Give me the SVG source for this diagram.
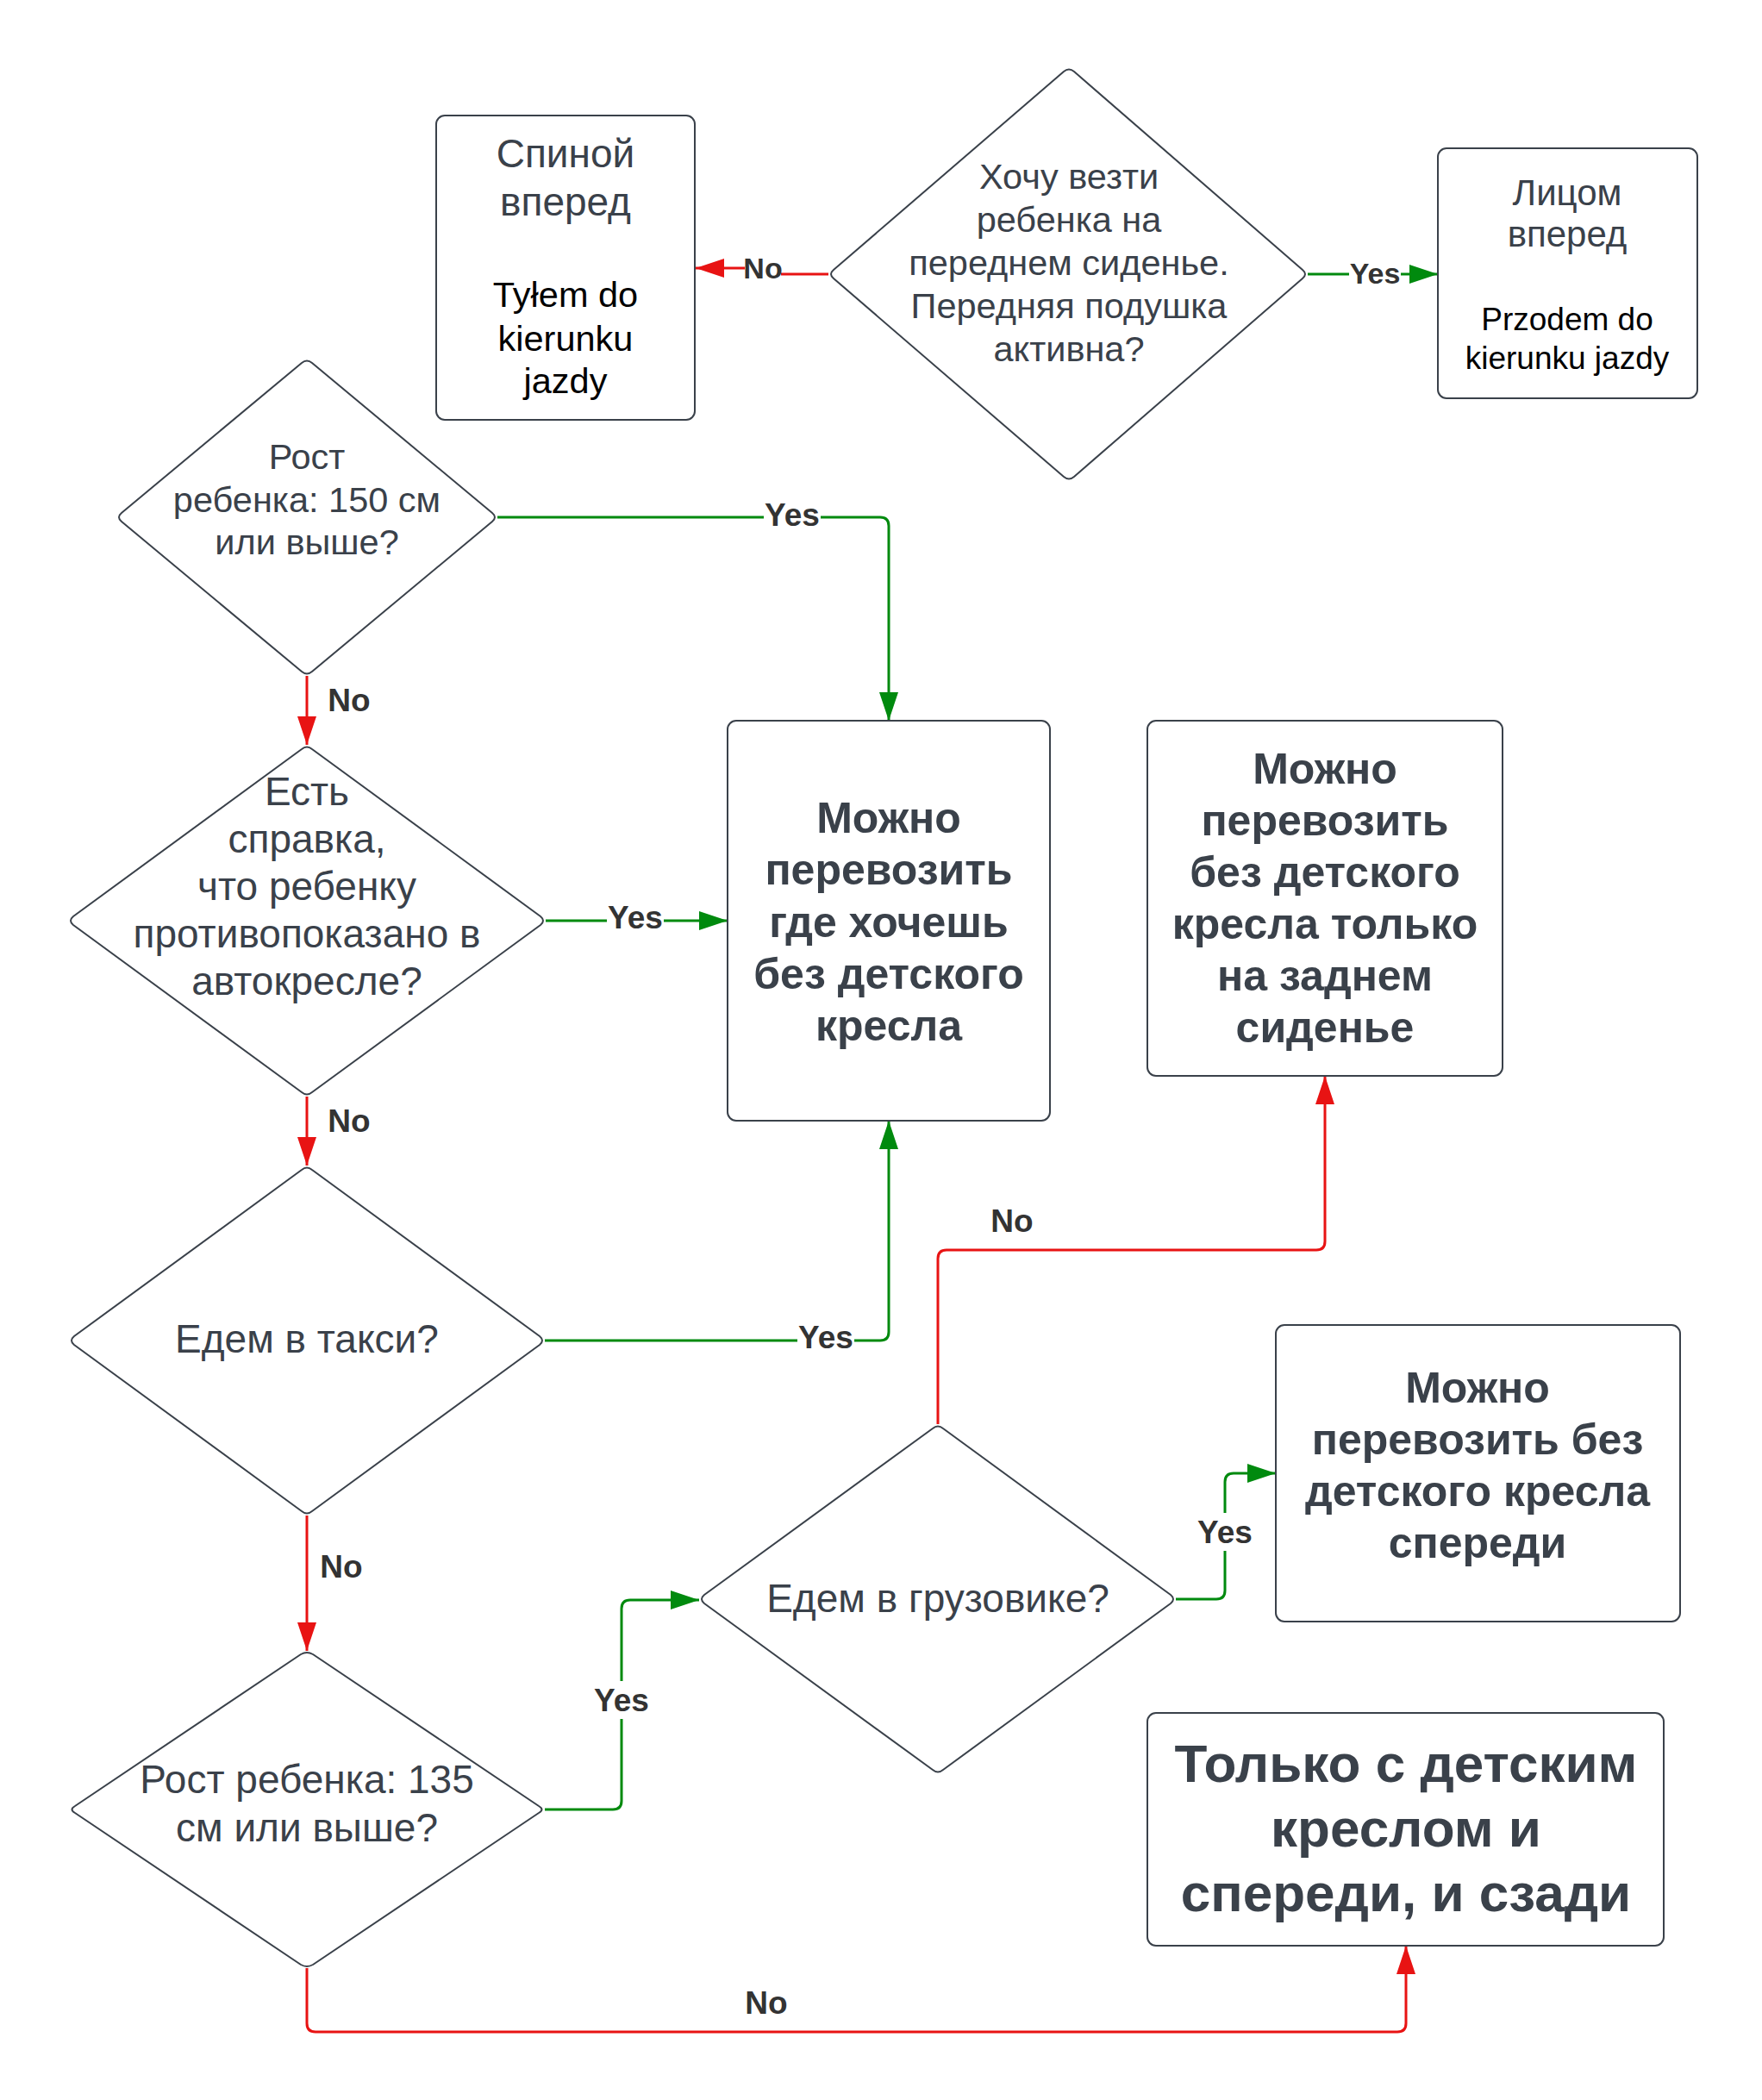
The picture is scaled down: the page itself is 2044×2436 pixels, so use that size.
<svg xmlns="http://www.w3.org/2000/svg" width="2044" height="2436" viewBox="0 0 2044 2436">
<defs>
<style>
.shape{fill:#ffffff;stroke:#3a414a;stroke-width:2;stroke-linejoin:round}
.t{font-family:"Liberation Sans",Arial,sans-serif;fill:#3a414a;text-anchor:middle}
.k{font-family:"Liberation Sans",Arial,sans-serif;fill:#000000;text-anchor:middle}
.b{font-family:"Liberation Sans",Arial,sans-serif;fill:#3a414a;text-anchor:middle;font-weight:bold}
.lbl{font-family:"Liberation Sans",Arial,sans-serif;fill:#333333;text-anchor:middle;font-weight:bold;font-size:37px}
.lbs{font-family:"Liberation Sans",Arial,sans-serif;fill:#333333;text-anchor:middle;font-weight:bold;font-size:34px}
.red{fill:none;stroke:#e81313;stroke-width:3}
.green{fill:none;stroke:#008a0e;stroke-width:3}
</style>
<marker id="ar" viewBox="0 0 33 22" refX="33" refY="11" markerWidth="33" markerHeight="22" markerUnits="userSpaceOnUse" orient="auto"><path d="M0,0 L33,11 L0,22 Z" fill="#e81313"/></marker>
<marker id="ag" viewBox="0 0 33 22" refX="33" refY="11" markerWidth="33" markerHeight="22" markerUnits="userSpaceOnUse" orient="auto"><path d="M0,0 L33,11 L0,22 Z" fill="#008a0e"/></marker>
</defs>
<rect width="2044" height="2436" fill="#ffffff"/>

<g id="connectors">
<path class="red" d="M961,318 H885 V311 H807" marker-end="url(#ar)"/>
<path class="green" d="M1517,318 H1668" marker-end="url(#ag)"/>
<path class="green" d="M577,600 H1021 Q1031,600 1031,610 V836" marker-end="url(#ag)"/>
<path class="red" d="M356,784 V864" marker-end="url(#ar)"/>
<path class="green" d="M633,1068 H844" marker-end="url(#ag)"/>
<path class="red" d="M356,1272 V1352" marker-end="url(#ar)"/>
<path class="green" d="M632,1555 H1021 Q1031,1555 1031,1545 V1300" marker-end="url(#ag)"/>
<path class="red" d="M356,1758 V1915" marker-end="url(#ar)"/>
<path class="green" d="M632,2099 H711 Q721,2099 721,2089 V1866 Q721,1856 731,1856 H811" marker-end="url(#ag)"/>
<path class="red" d="M1088,1652 V1460 Q1088,1450 1098,1450 H1527 Q1537,1450 1537,1440 V1248" marker-end="url(#ar)"/>
<path class="green" d="M1364,1855 H1411 Q1421,1855 1421,1845 V1719 Q1421,1709 1431,1709 H1480" marker-end="url(#ag)"/>
<path class="red" d="M356,2283 V2347 Q356,2357 366,2357 H1621 Q1631,2357 1631,2347 V2257" marker-end="url(#ar)"/>
</g>

<g id="labels">
<rect x="864" y="296" width="42" height="30" fill="#ffffff"/>
<text class="lbs" x="885" y="323">No</text>
<rect x="1565" y="302" width="60" height="30" fill="#ffffff"/>
<text class="lbs" x="1595" y="329">Yes</text>
<rect x="886" y="583" width="66" height="30" fill="#ffffff"/>
<text class="lbl" x="919" y="610">Yes</text>
<text class="lbl" x="405" y="825">No</text>
<rect x="704" y="1050" width="66" height="30" fill="#ffffff"/>
<text class="lbl" x="737" y="1077">Yes</text>
<text class="lbl" x="405" y="1313">No</text>
<rect x="925" y="1537" width="66" height="30" fill="#ffffff"/>
<text class="lbl" x="958" y="1564">Yes</text>
<text class="lbl" x="396" y="1830">No</text>
<rect x="688" y="1950" width="66" height="44" fill="#ffffff"/>
<text class="lbl" x="721" y="1985">Yes</text>
<text class="lbl" x="1174" y="1429">No</text>
<rect x="1388" y="1755" width="66" height="44" fill="#ffffff"/>
<text class="lbl" x="1421" y="1790">Yes</text>
<text class="lbl" x="889" y="2336">No</text>
</g>

<g id="n-front-seat">
<path class="shape" d="M1234,83 Q1240,78 1246,83 L1511,313 Q1517,318 1511,323 L1246,553 Q1240,558 1234,553 L967,323 Q961,318 967,313 Z"/>
<text class="t" font-size="41.5" x="1240" y="219">Хочу везти</text>
<text class="t" font-size="41.5" x="1240" y="269">ребенка на</text>
<text class="t" font-size="41.5" x="1240" y="319">переднем сиденье.</text>
<text class="t" font-size="41.5" x="1240" y="369">Передняя подушка</text>
<text class="t" font-size="41.5" x="1240" y="419">активна?</text>
</g>

<g id="n-rear-facing">
<rect class="shape" x="506" y="134" width="300" height="353" rx="10"/>
<text class="t" font-size="46" x="656" y="194">Спиной</text>
<text class="t" font-size="46" x="656" y="250">вперед</text>
<text class="k" font-size="41.5" x="656" y="356">Tyłem do</text>
<text class="k" font-size="41.5" x="656" y="407">kierunku</text>
<text class="k" font-size="41.5" x="656" y="456">jazdy</text>
</g>

<g id="n-front-facing">
<rect class="shape" x="1668" y="172" width="301" height="290" rx="10"/>
<text class="t" font-size="42" x="1818" y="238">Лицом</text>
<text class="t" font-size="42" x="1818" y="286">вперед</text>
<text class="k" font-size="37" x="1818" y="383">Przodem do</text>
<text class="k" font-size="37" x="1818" y="428">kierunku jazdy</text>
</g>

<g id="n-height150">
<path class="shape" d="M350,421 Q356,416 362,421 L571,595 Q577,600 571,605 L362,779 Q356,784 350,779 L141,605 Q135,600 141,595 Z"/>
<text class="t" font-size="41.5" x="356" y="544">Рост</text>
<text class="t" font-size="41.5" x="356" y="594">ребенка: 150 см</text>
<text class="t" font-size="41.5" x="356" y="643">или выше?</text>
</g>

<g id="n-certificate">
<path class="shape" d="M350,869 Q356,864 362,869 L627,1063 Q633,1068 627,1073 L362,1267 Q356,1272 350,1267 L85,1073 Q79,1068 85,1063 Z"/>
<text class="t" font-size="46" x="356" y="934">Есть</text>
<text class="t" font-size="46" x="356" y="989">справка,</text>
<text class="t" font-size="46" x="356" y="1044">что ребенку</text>
<text class="t" font-size="46" x="356" y="1099">противопоказано в</text>
<text class="t" font-size="46" x="356" y="1154">автокресле?</text>
</g>

<g id="n-taxi">
<path class="shape" d="M350,1357 Q356,1352 362,1357 L626,1550 Q632,1555 626,1560 L362,1753 Q356,1758 350,1753 L86,1560 Q80,1555 86,1550 Z"/>
<text class="t" font-size="46" x="356" y="1569">Едем в такси?</text>
</g>

<g id="n-height135">
<path class="shape" d="M349,1919 Q356,1915 363,1919 L625,2095 Q632,2099 625,2103 L363,2279 Q356,2283 349,2279 L87,2103 Q80,2099 87,2095 Z"/>
<text class="t" font-size="46" x="356" y="2080">Рост ребенка: 135</text>
<text class="t" font-size="46" x="356" y="2136">см или выше?</text>
</g>

<g id="n-truck">
<path class="shape" d="M1082,1657 Q1088,1652 1094,1657 L1358,1850 Q1364,1855 1358,1860 L1094,2053 Q1088,2058 1082,2053 L817,1860 Q811,1855 817,1850 Z"/>
<text class="t" font-size="46" x="1088" y="1870">Едем в грузовике?</text>
</g>

<g id="n-anywhere">
<rect class="shape" x="844" y="836" width="374" height="464" rx="10"/>
<text class="b" font-size="50" x="1031" y="966">Можно</text>
<text class="b" font-size="50" x="1031" y="1026">перевозить</text>
<text class="b" font-size="50" x="1031" y="1087">где хочешь</text>
<text class="b" font-size="50" x="1031" y="1147">без детского</text>
<text class="b" font-size="50" x="1031" y="1207">кресла</text>
</g>

<g id="n-rear-only">
<rect class="shape" x="1331" y="836" width="412" height="412" rx="10"/>
<text class="b" font-size="50" x="1537" y="909">Можно</text>
<text class="b" font-size="50" x="1537" y="969">перевозить</text>
<text class="b" font-size="50" x="1537" y="1029">без детского</text>
<text class="b" font-size="50" x="1537" y="1089">кресла только</text>
<text class="b" font-size="50" x="1537" y="1149">на заднем</text>
<text class="b" font-size="50" x="1537" y="1209">сиденье</text>
</g>

<g id="n-front-nochair">
<rect class="shape" x="1480" y="1537" width="469" height="344" rx="10"/>
<text class="b" font-size="50" x="1714" y="1627">Можно</text>
<text class="b" font-size="50" x="1714" y="1687">перевозить без</text>
<text class="b" font-size="50" x="1714" y="1747">детского кресла</text>
<text class="b" font-size="50" x="1714" y="1807">спереди</text>
</g>

<g id="n-chair-only">
<rect class="shape" x="1331" y="1987" width="599" height="270" rx="10"/>
<text class="b" font-size="62" x="1631" y="2067">Только с детским</text>
<text class="b" font-size="62" x="1631" y="2142">креслом и</text>
<text class="b" font-size="62" x="1631" y="2217">спереди, и сзади</text>
</g>
</svg>
